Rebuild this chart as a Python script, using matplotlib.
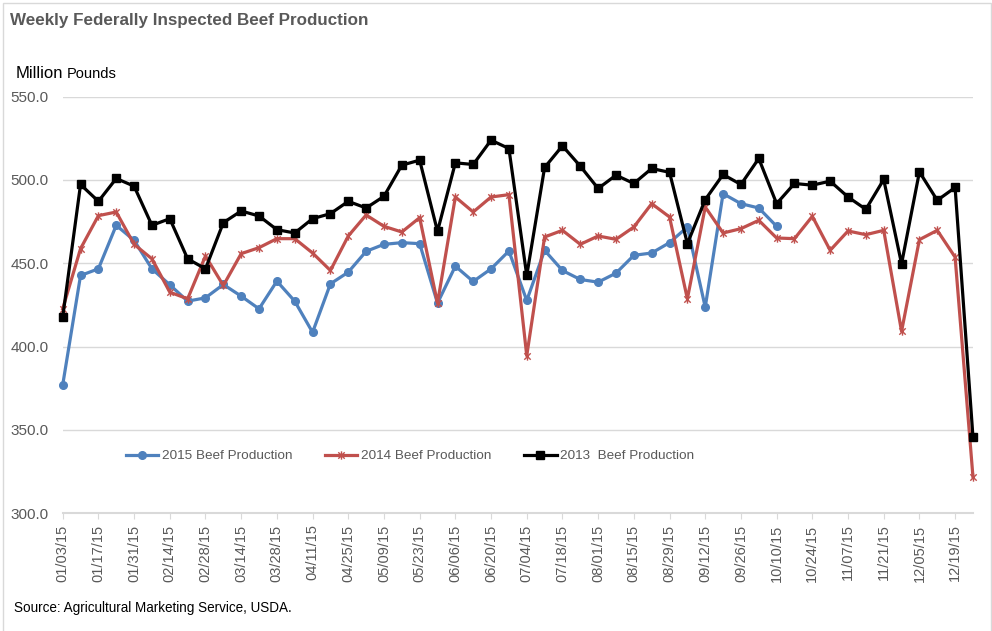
import matplotlib
matplotlib.use("Agg")
import matplotlib.pyplot as plt
from matplotlib.path import Path
from matplotlib.patches import Rectangle
import matplotlib.transforms as mtransforms

plt.rcParams['font.family'] = ['Liberation Sans', 'DejaVu Sans']

# weekly dates (week ending), 2015 calendar
weeks = ["01/03/15", "01/10/15", "01/17/15", "01/24/15", "01/31/15", "02/07/15",
         "02/14/15", "02/21/15", "02/28/15", "03/07/15", "03/14/15", "03/21/15",
         "03/28/15", "04/04/15", "04/11/15", "04/18/15", "04/25/15", "05/02/15",
         "05/09/15", "05/16/15", "05/23/15", "05/30/15", "06/06/15", "06/13/15",
         "06/20/15", "06/27/15", "07/04/15", "07/11/15", "07/18/15", "07/25/15",
         "08/01/15", "08/08/15", "08/15/15", "08/22/15", "08/29/15", "09/05/15",
         "09/12/15", "09/19/15", "09/26/15", "10/03/15", "10/10/15", "10/17/15",
         "10/24/15", "10/31/15", "11/07/15", "11/14/15", "11/21/15", "11/28/15",
         "12/05/15", "12/12/15", "12/19/15", "12/26/15"]

prod_2015 = [377, 442.7, 446.7, 472.8, 463.8, 446.7, 437.1, 427.3, 429.3, 437.3,
             430.3, 422.7, 439.3, 427.3, 408.6, 437.7, 444.7, 457.2, 461.4, 462.4,
             461.8, 426.1, 448.3, 439.1, 446.7, 457.4, 427.7, 457.8, 445.7, 440.3,
             438.7, 444.1, 454.8, 456.2, 462.4, 471.8, 423.7, 491.8, 485.8, 483.2,
             472.2]

prod_2014 = [422.7, 458.8, 478.6, 480.8, 461.4, 452.7, 432.7, 428.7, 454.4, 436.7,
             455.8, 459.4, 464.8, 464.8, 456.2, 445.7, 466.4, 479.0, 472.2, 468.8,
             477.4, 426.1, 489.8, 480.8, 489.8, 491.2, 394.6, 465.8, 469.8, 461.4,
             466.4, 464.4, 471.8, 485.8, 477.8, 428.7, 483.8, 468.2, 470.8, 475.8,
             465.2, 464.8, 478.2, 457.8, 469.4, 467.2, 469.8, 409.2, 464.2, 469.8,
             453.7, 321.9]

prod_2013 = [417.7, 497.3, 487.2, 500.9, 496.3, 472.8, 476.8, 452.7, 446.7, 474.4,
             481.4, 478.4, 470.2, 468.2, 476.8, 479.8, 487.2, 483.2, 490.2, 508.9,
             511.9, 469.2, 510.3, 509.3, 523.9, 518.9, 442.7, 507.5, 520.5, 508.3,
             494.9, 502.9, 497.9, 506.9, 504.6, 461.8, 488.2, 503.3, 497.3, 512.9,
             485.8, 497.9, 496.9, 499.3, 489.8, 482.4, 500.3, 449.7, 504.9, 487.8,
             495.5, 345.9]

y_ticks = [300, 350, 400, 450, 500, 550]

# Excel style "star" marker: an x with a vertical bar
star = Path([(-1, -1), (1, 1), (-1, 1), (1, -1), (0, -1.3), (0, 1.3)],
            [Path.MOVETO, Path.LINETO, Path.MOVETO, Path.LINETO, Path.MOVETO, Path.LINETO])

fig = plt.figure(figsize=(9.92, 6.31), dpi=100)
ax = fig.add_axes([0.0632, 0.1865, 0.9176, 0.6603])

ax.plot(range(len(prod_2015)), prod_2015, color="#4F81BD", lw=2.3, marker="o",
        ms=5.5, label="2015 Beef Production", clip_on=False, zorder=3)
ax.plot(range(len(prod_2014)), prod_2014, color="#C0504D", lw=2.3, marker=star,
        ms=6, mew=1, label="2014 Beef Production", clip_on=False, zorder=4)
ax.plot(range(len(prod_2013)), prod_2013, color="black", lw=2.3, marker="s",
        ms=6.2, label="2013  Beef Production", clip_on=False, zorder=5)

ax.set_xlim(0, len(weeks) - 1)
ax.set_ylim(300, 550)
ax.set_yticks(y_ticks)
ax.set_yticklabels([f"{v:.1f}" for v in y_ticks])
ax.yaxis.grid(True, color="#D9D9D9", lw=1)
ax.set_axisbelow(True)

ax.set_xticks(range(0, len(weeks), 2))
ax.set_xticklabels(weeks[::2], rotation=90, va="top", ha="center")
offset = mtransforms.ScaledTranslation(3 / 100, 0, fig.dpi_scale_trans)
for lbl in ax.get_xticklabels():
    lbl.set_transform(lbl.get_transform() + offset)

for s in ["top", "right", "left"]:
    ax.spines[s].set_visible(False)
ax.spines["bottom"].set_color("#D9D9D9")
ax.spines["bottom"].set_linewidth(1.5)
ax.tick_params(axis="y", length=0, pad=10, labelsize=11, labelcolor="#595959")
ax.tick_params(axis="x", length=4, color="#D9D9D9", pad=4, labelsize=10.5,
               labelcolor="#595959")

leg = ax.legend(ncol=3, loc="center", bbox_to_anchor=(410 / 992, 1 - 456 / 631),
                bbox_transform=fig.transFigure, frameon=False, fontsize=9.7,
                handlelength=2.4, handletextpad=0.25, columnspacing=2.45)
for t in leg.get_texts():
    t.set_color("#595959")

fig.text(10 / 992, 1 - 20 / 631, "Weekly Federally Inspected Beef Production",
         fontsize=12.25, fontweight="bold", color="#595959", va="center")
fig.text(16 / 992, 1 - 73 / 631, "Million", fontsize=12, color="black", va="center")
fig.text(67 / 992, 1 - 74 / 631, "Pounds", fontsize=10.5, color="black", va="center")
fig.text(14 / 992, 1 - 608 / 631, "Source: Agricultural Marketing Service, USDA.",
         fontsize=9.75, color="black", va="center")

fig.patches.append(Rectangle((3 / 992, -0.01), 988 / 992, 1 - 3 / 631 + 0.01,
                             transform=fig.transFigure, fill=False,
                             edgecolor="#D9D9D9", lw=1))

fig.savefig("out.png", dpi=100)
